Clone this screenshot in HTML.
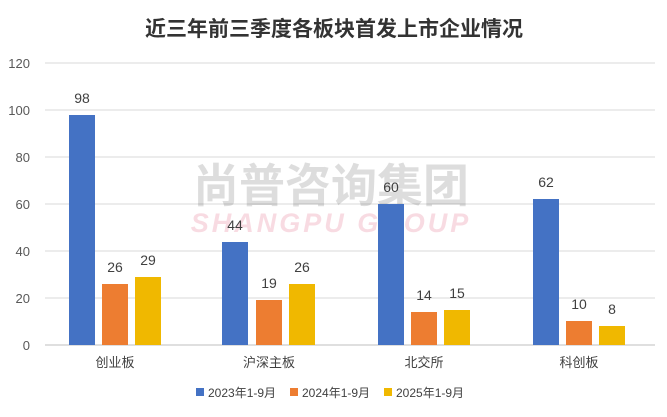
<!DOCTYPE html>
<html><head><meta charset="utf-8"><style>
body{margin:0;background:#fff;}
svg text{font-family:"Liberation Sans","Noto Sans CJK SC",sans-serif;}
</style></head><body>
<svg width="667" height="412" viewBox="0 0 667 412" xmlns="http://www.w3.org/2000/svg">
<rect width="667" height="412" fill="#fff"/>
<text x="334" y="36" text-anchor="middle" font-size="21" font-weight="bold" fill="#333">近三年前三季度各板块首发上市企业情况</text>
<g stroke="#d9d9d9" stroke-width="1">
<line x1="45" y1="63" x2="655" y2="63"/>
<line x1="45" y1="110" x2="655" y2="110"/>
<line x1="45" y1="157" x2="655" y2="157"/>
<line x1="45" y1="204" x2="655" y2="204"/>
<line x1="45" y1="251" x2="655" y2="251"/>
<line x1="45" y1="298" x2="655" y2="298"/>
<line x1="45" y1="345" x2="655" y2="345" stroke="#bfbfbf"/>
</g>
<g font-size="13" fill="#595959" text-anchor="end">
<text x="30" y="68">120</text><text x="30" y="115">100</text><text x="30" y="162">80</text>
<text x="30" y="209">60</text><text x="30" y="256">40</text><text x="30" y="303">20</text><text x="30" y="350">0</text>
</g>
<text x="331" y="202" text-anchor="middle" font-size="46" font-weight="bold" fill="#000" opacity="0.13">尚普咨询集团</text>
<text x="331" y="232" text-anchor="middle" font-size="27" font-weight="bold" font-style="italic" fill="#e06080" opacity="0.22" letter-spacing="3">SHANGPU GROUP</text>
<g>
<rect x="69" y="115" width="26" height="230" fill="#4472c4"/>
<rect x="102" y="284" width="26" height="61" fill="#ed7d31"/>
<rect x="135" y="277" width="26" height="68" fill="#f0b800"/>
<rect x="222" y="242" width="26" height="103" fill="#4472c4"/>
<rect x="256" y="300" width="26" height="45" fill="#ed7d31"/>
<rect x="289" y="284" width="26" height="61" fill="#f0b800"/>
<rect x="378" y="204" width="26" height="141" fill="#4472c4"/>
<rect x="411" y="312" width="26" height="33" fill="#ed7d31"/>
<rect x="444" y="310" width="26" height="35" fill="#f0b800"/>
<rect x="533" y="199" width="26" height="146" fill="#4472c4"/>
<rect x="566" y="321" width="26" height="24" fill="#ed7d31"/>
<rect x="599" y="326" width="26" height="19" fill="#f0b800"/>
</g>
<g font-size="14" fill="#404040" text-anchor="middle">
<text x="82" y="103">98</text><text x="115" y="272">26</text><text x="148" y="265">29</text>
<text x="235" y="230">44</text><text x="269" y="288">19</text><text x="302" y="272">26</text>
<text x="391" y="192">60</text><text x="424" y="300">14</text><text x="457" y="298">15</text>
<text x="546" y="187">62</text><text x="579" y="309">10</text><text x="612" y="314">8</text>
</g>
<g font-size="13" fill="#404040" text-anchor="middle">
<text x="115" y="367">创业板</text><text x="269" y="367">沪深主板</text><text x="424" y="367">北交所</text><text x="579" y="367">科创板</text>
</g>
<g font-size="12" fill="#404040">
<rect x="196" y="388" width="8" height="8" fill="#4472c4"/><text x="208" y="397">2023年1-9月</text>
<rect x="290" y="388" width="8" height="8" fill="#ed7d31"/><text x="302" y="397">2024年1-9月</text>
<rect x="384" y="388" width="8" height="8" fill="#f0b800"/><text x="396" y="397">2025年1-9月</text>
</g>
</svg>
</body></html>
